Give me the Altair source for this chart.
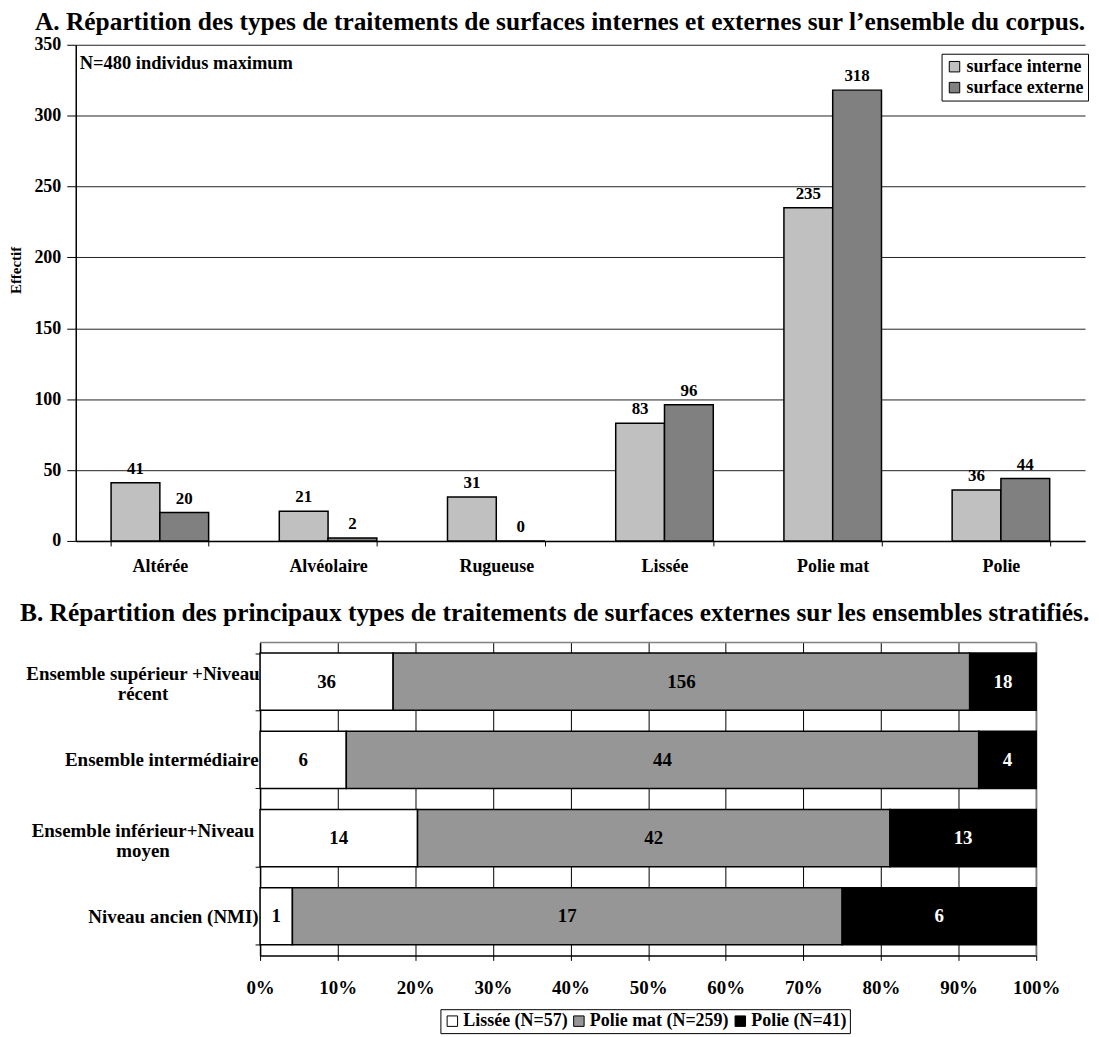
import altair as alt
import pandas as pd

FONT = "Liberation Serif"

# ---- Chart A data ----
categories = ["Altérée", "Alvéolaire", "Rugueuse", "Lissée", "Polie mat", "Polie"]
interne = [41, 21, 31, 83, 235, 36]
externe = [20, 2, 0, 96, 318, 44]
series_a = ["surface interne", "surface externe"]
colors_a = ["#c0c0c0", "#808080"]
note_a = ["N=480 individus maximum"]
y_ticks_a = [0, 50, 100, 150, 200, 250, 300, 350]

# ---- Chart B data ----
groups_b = ["Ensemble supérieur +Niveau", "Ensemble intermédiaire",
            "Ensemble inférieur+Niveau", "Niveau ancien (NMI)"]
groups_b_line2 = ["récent", "", "moyen", ""]
lissee = [36, 6, 14, 1]
polie_mat = [156, 44, 42, 17]
polie = [18, 4, 13, 6]
series_b = ["Lissée (N=57)", "Polie mat (N=259)", "Polie (N=41)"]
colors_b = ["#ffffff", "#969696", "#000000"]
x_ticks_b = [0, 0.1, 0.2, 0.3, 0.4, 0.5, 0.6, 0.7, 0.8, 0.9, 1.0]

title_a = "A. Répartition des types de traitements de surfaces internes et externes sur l’ensemble du corpus."
title_b = "B. Répartition des principaux types de traitements de surfaces externes sur les ensembles stratifiés."

rows_a = []
for c, i, e in zip(categories, interne, externe):
    rows_a.append({"category": c, "serie": series_a[0], "value": i})
    rows_a.append({"category": c, "serie": series_a[1], "value": e})
df_a = pd.DataFrame(rows_a)

rows_b = []
for g, a, b, c in zip(groups_b, lissee, polie_mat, polie):
    for k, v in enumerate([a, b, c]):
        rows_b.append({"group": g, "serie": series_b[k], "value": v, "order": k})
df_b = pd.DataFrame(rows_b)

# layout constants (pixels)
WA, HA = 1013, 498          # plot A
B_LEFT, B_RIGHT, HB = 185, 964, 314   # plot B, relative to plot A's left edge

# ---------------- Chart A ----------------
x_a = alt.X("category:N", sort=categories,
            scale=alt.Scale(paddingInner=0.42, paddingOuter=0.21),
            axis=alt.Axis(title=None, tickBand="extent", labelAngle=0,
                          labelFont=FONT, labelFontSize=18, labelFontWeight="bold",
                          labelColor="black", labelPadding=12, tickSize=5,
                          tickColor="black", domainColor="black", domainWidth=1.5,
                          grid=False))
xo_a = alt.XOffset("serie:N", sort=series_a,
                   scale=alt.Scale(paddingInner=0, paddingOuter=0))
y_a = alt.Y("value:Q", scale=alt.Scale(domain=[0, 350], nice=False),
            axis=alt.Axis(title="Effectif", values=y_ticks_a, grid=True,
                          gridColor="#222", gridWidth=1,
                          labelFont=FONT, labelFontSize=18, labelFontWeight="bold",
                          labelColor="black", labelPadding=6, tickSize=9,
                          tickColor="black", domainColor="black", domainWidth=1.5,
                          titleFont=FONT, titleFontSize=15, titleFontWeight="bold",
                          titleColor="black", titlePadding=10, titleY=226))

bars_a = alt.Chart(df_a).mark_bar(stroke="black", strokeWidth=1.5).encode(
    x=x_a, xOffset=xo_a, y=y_a,
    color=alt.Color("serie:N", sort=series_a,
                    scale=alt.Scale(domain=series_a, range=colors_a),
                    legend=alt.Legend(title=None, orient="none", legendX=869, legendY=9,
                                      strokeColor="black", fillColor="white",
                                      padding=4, symbolType="square", symbolSize=110,
                                      symbolStrokeColor="black", symbolStrokeWidth=1,
                                      labelFont=FONT, labelFontSize=18,
                                      labelFontWeight="bold", labelColor="black",
                                      rowPadding=3, labelOffset=3)),
)
labels_a = alt.Chart(df_a).mark_text(baseline="bottom", dy=-5, font=FONT,
                                     fontSize=17, fontWeight="bold", color="black").encode(
    x=alt.X("category:N", sort=categories), xOffset=xo_a,
    y=alt.Y("value:Q"), text="value:Q")
note = alt.Chart(pd.DataFrame({"t": note_a})).mark_text(
    align="left", baseline="middle", font=FONT, fontSize=18.5, fontWeight="bold",
    color="black").encode(x=alt.value(4), y=alt.value(18), text="t:N")

chart_a = alt.layer(bars_a, labels_a, note).properties(
    width=WA, height=HA,
    title=alt.TitleParams(title_a, anchor="start", frame="group", dx=-41,
                          font=FONT, fontSize=25.5, fontWeight="bold", color="black",
                          offset=0),
)

# ---------------- Chart B ----------------
line2_map = {g: l for g, l in zip(groups_b, groups_b_line2) if l}
wrapped = list(line2_map.keys())
wrap_test = "indexof(" + str(wrapped) + ", datum.label) >= 0"
map_expr = "{" + ", ".join("'%s': '%s'" % (k, v) for k, v in line2_map.items()) + "}"
label_expr = "(" + map_expr + ")[datum.label] ? [datum.label, (" + map_expr + ")[datum.label]] : datum.label"

y_b = alt.Y("group:N", sort=groups_b,
            scale=alt.Scale(paddingInner=0.27, paddingOuter=0.135),
            axis=alt.Axis(title=None, tickBand="extent", labelExpr=label_expr,
                          offset=-B_LEFT,
                          labelFont=FONT, labelFontSize=19, labelFontWeight="bold",
                          labelColor="black", tickSize=5,
                          labelAlign={"condition": {"test": wrap_test, "value": "center"}, "value": "right"},
                          labelPadding={"condition": {"test": wrap_test, "value": 113}, "value": -3},
                          labelOffset={"condition": {"test": wrap_test, "value": -8}, "value": 0},
                          tickColor="black", domainColor="black", domainWidth=1.5,
                          labelLimit=400, labelLineHeight=20))
x_b = alt.X("x0:Q", scale=alt.Scale(domain=[0, 1], nice=False, range=[B_LEFT, B_RIGHT]),
            axis=alt.Axis(title=None, format=".0%", values=x_ticks_b, grid=True,
                          gridColor="black", gridWidth=1, labelFlush=False,
                          labelFont=FONT, labelFontSize=19, labelFontWeight="bold",
                          labelColor="black", labelPadding=18, tickSize=5,
                          tickColor="black", domainColor="black", domainWidth=1.5))

base_b = alt.Chart(df_b).transform_stack(
    stack="value", groupby=["group"], as_=["x0", "x1"], offset="normalize",
    sort=[alt.SortField("order", order="ascending")]
).transform_calculate(mid="(datum.x0 + datum.x1) / 2")

bars_b = base_b.mark_bar(stroke="black", strokeWidth=1.5).encode(
    y=y_b, x=x_b, x2="x1:Q",
    color=alt.Color("serie:N", sort=series_b,
                    scale=alt.Scale(domain=series_b, range=colors_b),
                    legend=alt.Legend(title=None, orient="none", direction="horizontal",
                                      legendX=366, legendY=368,
                                      strokeColor="black", padding=3,
                                      symbolType="square", symbolSize=110,
                                      symbolStrokeColor="black", symbolStrokeWidth=1,
                                      labelFont=FONT, labelFontSize=18,
                                      labelFontWeight="bold", labelColor="black",
                                      columnPadding=2, labelOffset=2)),
)
text_b = base_b.mark_text(font=FONT, fontSize=19, fontWeight="bold").encode(
    y=alt.Y("group:N", sort=groups_b), x=alt.X("mid:Q"), text="value:Q",
    color=alt.condition(alt.datum.serie == series_b[2], alt.value("white"), alt.value("black")),
)
frame_top = alt.Chart(pd.DataFrame({"k": [0]})).mark_rule(color="#808080", strokeWidth=1.5).encode(
    x=alt.value(B_LEFT), x2=alt.value(B_RIGHT), y=alt.value(0))
frame_right = alt.Chart(pd.DataFrame({"k": [0]})).mark_rule(color="#808080", strokeWidth=1.5).encode(
    x=alt.value(B_RIGHT), y=alt.value(0), y2=alt.value(HB))

chart_b = alt.layer(frame_top, frame_right, bars_b, text_b).properties(
    width=B_RIGHT, height=HB,
    title=alt.TitleParams(title_b, anchor="start", frame="group", dx=-56,
                          font=FONT, fontSize=25.5, fontWeight="bold", color="black",
                          offset=7),
)

chart = alt.vconcat(chart_a, chart_b, spacing=24).properties(
    padding={"left": 0, "top": 0, "right": 0, "bottom": 0}
).resolve_scale(color="independent").configure_view(stroke="transparent")

chart.save("out.html", embed_options={"renderer": "svg", "actions": False})
